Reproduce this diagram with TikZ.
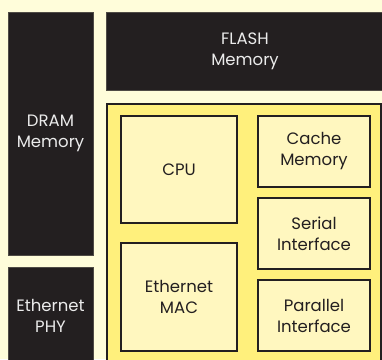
\documentclass[tikz,border=0pt]{standalone}
\usepackage{fontspec}
\setmainfont{Poppins}
\definecolor{cream}{HTML}{FFFDDA}
\definecolor{ink}{HTML}{231F20}
\definecolor{socyellow}{HTML}{FFF07C}
\definecolor{boxyellow}{HTML}{FFF7BF}

\begin{document}
\begin{tikzpicture}[x=1pt, y=-1pt,
    darkblock/.style={fill=ink, draw=ink!80!cream, line width=0.6pt, text=white!92!black, align=center,
      font=\fontsize{16.5}{21}\selectfont, inner sep=0pt},
    unit/.style={fill=boxyellow, draw=ink, line width=1.5pt, text=ink, align=center,
      font=\fontsize{16.5}{21}\selectfont, inner sep=0pt}]
\fill[cream] (0,0) rectangle (382,359);
\useasboundingbox (0,0) rectangle (382,359);

% off-chip parts
\node[darkblock, minimum width=85pt, minimum height=243pt] (dram) at (50.5,133.5) {DRAM\\Memory};
\node[darkblock, minimum width=85pt, minimum height=98pt] (phy) at (50.5,316) {Ethernet\\PHY};
\node[darkblock, minimum width=278pt, minimum height=78pt] (flash) at (245,51) {FLASH\\Memory};

% the chip
\node[fill=socyellow, draw=ink, line width=1.5pt, minimum width=274pt, minimum height=261pt] (soc) at (244,234.5) {};

\node[unit, minimum width=116pt, minimum height=107pt] (cpu) at (179,169.5) {CPU};
\node[unit, minimum width=116pt, minimum height=108pt] (mac) at (179,297) {Ethernet\\MAC};
\node[unit, minimum width=112pt, minimum height=71pt] (cache) at (314,151.5) {Cache\\Memory};
\node[unit, minimum width=112pt, minimum height=71pt] (serial) at (314,233.5) {Serial\\Interface};
\node[unit, minimum width=112pt, minimum height=71pt] (parallel) at (314,315.5) {Parallel\\Interface};

\end{tikzpicture}
\end{document}
